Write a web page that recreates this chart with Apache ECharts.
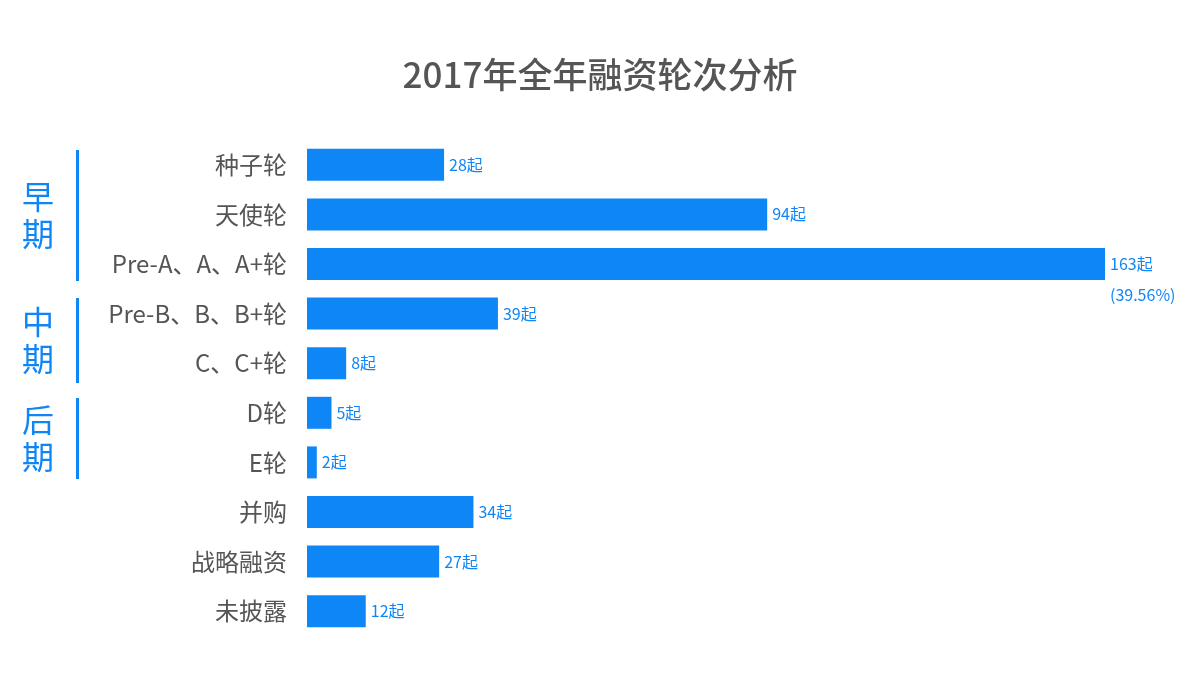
<!DOCTYPE html>
<html><head><meta charset="utf-8">
<script src="https://cdn.jsdelivr.net/npm/echarts@6/dist/echarts.min.js"></script>
<style>html,body{margin:0;padding:0;background:#fff}#c{width:1200px;height:687px}</style>
</head><body><div id="c"></div>
<script>
const categories = ['种子轮','天使轮','Pre-A、A、A+轮','Pre-B、B、B+轮','C、C+轮','D轮','E轮','并购','战略融资','未披露'];
const values = [28,94,163,39,8,5,2,34,27,12];
const notes = ['','','(39.56%)','','','','','','',''];
const groups = [{name:'早期',y1:150,y2:281},{name:'中期',y1:298,y2:383},{name:'后期',y1:398,y2:479}];
const blue = '#0f86f6';
const chart = echarts.init(document.getElementById('c'));
const font = '"Noto Sans CJK SC","Noto Sans",sans-serif';
const graphic = [];
groups.forEach(g=>{
  graphic.push({type:'rect',left:76,top:g.y1,shape:{width:3,height:g.y2-g.y1},style:{fill:blue}});
  graphic.push({type:'text',left:22,top:(g.y1+g.y2)/2-37,style:{text:g.name.split('').join('\n'),fill:blue,font:'32px '+font,lineHeight:37}});
});
const data = values.map((v,i)=>notes[i]?{value:v,label:{formatter:v+'起\n'+notes[i],lineHeight:31,offset:[0,15.5]}}:v);
chart.setOption({
  animation:false,
  title:{text:'2017年全年融资轮次分析',left:'center',top:52,textStyle:{fontFamily:font,fontSize:35,fontWeight:500,color:'#555'}},
  grid:{left:307,right:95,top:140,bottom:51},
  xAxis:{type:'value',min:0,max:163,show:false},
  yAxis:{type:'category',data:categories,inverse:true,axisLine:{show:false},axisTick:{show:false},
    axisLabel:{fontFamily:font,fontSize:24,color:'#555',margin:20}},
  series:[{type:'bar',data:data,barWidth:32,itemStyle:{color:blue},
    label:{show:true,position:'right',distance:5,fontFamily:font,fontSize:16,color:blue,
      formatter:p=>p.value+'起'}}],
  graphic
});
</script></body></html>
